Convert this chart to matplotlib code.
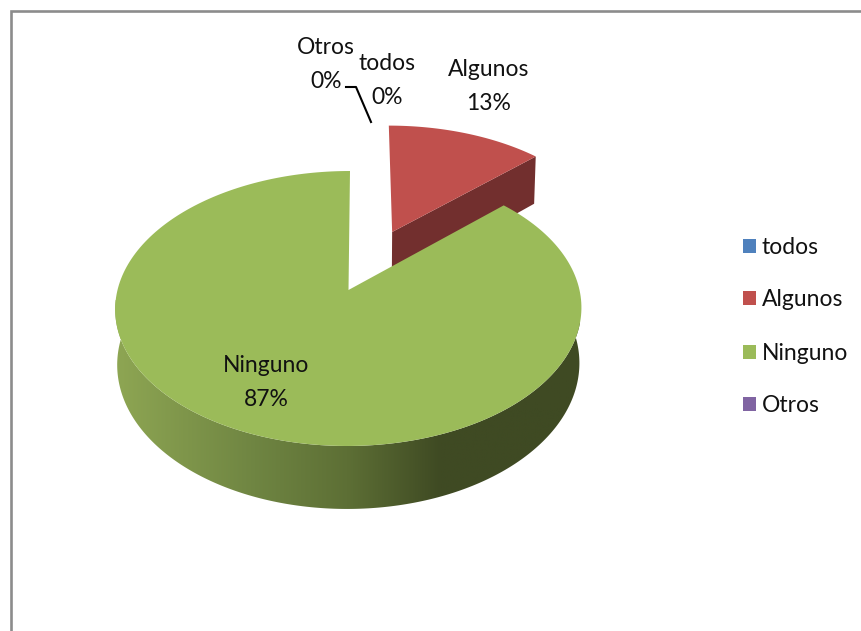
import numpy as np
import matplotlib
matplotlib.use("Agg")
import matplotlib.pyplot as plt
from matplotlib.colors import LinearSegmentedColormap
from matplotlib.patches import Polygon, Rectangle

labels = ["todos", "Algunos", "Ninguno", "Otros"]
values = [0, 13, 87, 0]
colors = ["#4f81bd", "#c0504d", "#9bbb59", "#8064a2"]

plt.rcParams['font.family'] = ['Lato', 'DejaVu Sans']
W, H = 861, 631
FS = 16.5

fig = plt.figure(figsize=(W / 100, H / 100), dpi=100)
# axes in pixels, y going down like the picture
ax = fig.add_axes([0, 0, 1, 1])
ax.set_xlim(0, W)
ax.set_ylim(H, 0)
ax.axis('off')

# perspective of the tilted pie, found from the corners of the slices
CX, RX, RX_LOW = 348.5, 231, 229
BACK, TILT, DEPTH, KEEP = 290, -96, 54.5, 0.1345
SHEAR = 1.5


def project(x, y, low=False):
    d = 1 + KEEP * y
    r = RX_LOW if low else RX
    return CX + SHEAR * y + r * x / d, (TILT * y + BACK + (DEPTH if low else 0)) / d


def arc(a0, a1, dx=0, dy=0, low=False):
    t = np.radians(np.linspace(a0, a1, 240))
    return project(np.sin(t) + dx, np.cos(t) + dy, low)


def poly(xs, ys, color, zorder):
    p = Polygon(np.column_stack([xs, ys]), closed=True, fc=color, ec='none', zorder=zorder)
    ax.add_patch(p)
    return p


# frame, only left and top are in the crop
ax.plot([10.5, 10.5, W], [H, 10.5, 10.5], color="#8c8c8c", lw=1.9, solid_joinstyle='miter', zorder=1)

angles = np.cumsum([0] + values) / sum(values) * 360

# Algunos, pulled out of the pie
a0, a1 = angles[1], angles[2]
mid = np.radians((a0 + a1) / 2)
dx, dy = 0.497 * np.sin(mid), 0.497 * np.cos(mid)
ax_, ay_ = project(dx, dy)
bx_, by_ = project(dx, dy, True)
ex, ey = arc(a1, a1, dx, dy)
fx, fy = arc(a1, a1, dx, dy, True)
poly([ax_, ex[0], fx[0], bx_], [ay_, ey[0], fy[0], by_], "#722f2e", 2)
xs, ys = arc(a0, a1, dx, dy)
poly(np.r_[ax_, xs], np.r_[ay_, ys], colors[1], 3)

# Ninguno, wall with the gradient first then the top
g0, g1 = angles[2], angles[3]
tx, ty = arc(80, 280)
lx, ly = arc(80, 280, low=True)
wall = poly(np.r_[tx, lx[::-1]], np.r_[ty, ly[::-1]], "none", 4)
cmap = LinearSegmentedColormap.from_list(
    "wall", [(0, "#8ea653"), (0.3, "#6f8542"), (0.5, "#5d6f35"), (0.7, "#3f4a23"), (1, "#3f4a23")])
grad = ax.imshow(np.linspace(0, 1, 256)[None, :], cmap=cmap, extent=[115, 580, 520, 300], aspect='auto', zorder=4)
grad.set_clip_path(wall)
ax.set_xlim(0, W)
ax.set_ylim(H, 0)

ox, oy = project(0, 0)
xs, ys = arc(g0, g1)
poly(np.r_[ox, xs], np.r_[oy, ys], colors[2], 5)

# labels
font = dict(fontsize=FS, ha='center', va='center', color="#111111", zorder=7)
ax.text(326, 48, labels[3], **font)
ax.text(326, 81, "%d%%" % values[3], **font)
ax.text(387, 63, labels[0], **font)
ax.text(387, 98, "%d%%" % values[0], **font)
ax.text(489, 69, labels[1], **font)
ax.text(489, 104, "%d%%" % values[1], **font)
ax.text(266, 366, labels[2], **font)
ax.text(266, 400, "%d%%" % values[2], **font)
ax.plot([346, 356, 371], [87, 87, 122], color="black", lw=1.5, zorder=6)

# legend
legend_y = [246, 298, 352, 404]
for name, c, y in zip(labels, colors, legend_y):
    ax.add_patch(Rectangle((743, y - 7), 13, 14, fc=c, ec='none', zorder=6))
    ax.text(762, y + 2, name, fontsize=FS, ha='left', va='center', color="#111111", zorder=7)

fig.savefig("out.png", dpi=100)
